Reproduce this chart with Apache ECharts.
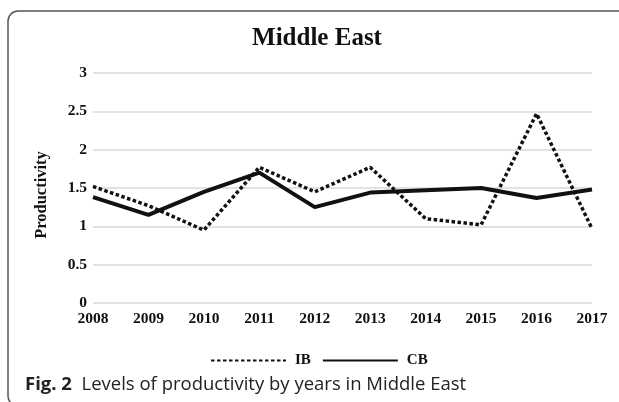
<!DOCTYPE html>
<html>
<head>
<meta charset="utf-8">
<script src="https://cdn.jsdelivr.net/npm/echarts@6/dist/echarts.min.js"></script>
<style>
html,body{margin:0;padding:0;background:#fff;}
#chart{width:619px;height:402px;}
</style>
</head>
<body>
<div id="chart"></div>
<script>
var years = ['2008','2009','2010','2011','2012','2013','2014','2015','2016','2017'];
var ibValues = [1.52, 1.27, 0.95, 1.77, 1.45, 1.77, 1.10, 1.02, 2.47, 0.97];
var cbValues = [1.38, 1.15, 1.45, 1.70, 1.25, 1.44, 1.47, 1.50, 1.37, 1.48];
var chartTitle = 'Middle East';
var yAxisName = 'Productivity';
var captionBold = 'Fig. 2';
var captionText = 'Levels of productivity by years in Middle East';

var serif = '"Liberation Serif", "Times New Roman", serif';
var frameStyle = {fill: 'none', stroke: '#555', lineWidth: 1.5};
var chart = echarts.init(document.getElementById('chart'), null, {renderer: 'canvas'});
chart.setOption({
  backgroundColor: '#fff',
  animation: false,
  title: {
    text: chartTitle,
    left: 312, top: 21, textAlign: 'center',
    textStyle: {fontFamily: serif, fontWeight: 'bold', fontSize: 25, color: '#111'}
  },
  grid: {left: 93, right: 27, top: 73, bottom: 99},
  legend: {
    top: 348, left: 205,
    itemWidth: 75, itemHeight: 10, itemGap: 11,
    itemStyle: {opacity: 0},
    textStyle: {fontFamily: serif, fontWeight: 'bold', fontSize: 15, color: '#111', padding: [0,0,0,4]},
    data: ['IB', 'CB']
  },
  xAxis: {
    type: 'category', data: years, boundaryGap: false,
    axisLine: {show: false}, axisTick: {show: false},
    axisLabel: {margin: 8, fontFamily: serif, fontWeight: 'bold', fontSize: 15.5, color: '#111'}
  },
  yAxis: {
    type: 'value', min: 0, max: 3, interval: 0.5,
    name: yAxisName, nameLocation: 'middle', nameGap: 43, nameRotate: 90,
    nameTextStyle: {fontFamily: serif, fontWeight: 'bold', fontSize: 16.5, color: '#111', padding: [0,14,0,0]},
    axisLine: {show: false}, axisTick: {show: false},
    axisLabel: {margin: 6, fontFamily: serif, fontWeight: 'bold', fontSize: 15.5, color: '#111'},
    splitLine: {lineStyle: {color: '#d9d9d9', width: 1.5}}
  },
  series: [
    {name: 'IB', type: 'line', data: ibValues, symbol: 'none',
     lineStyle: {color: '#111', width: 3.5, type: [3.5, 2.5], cap: 'butt'},
     itemStyle: {color: '#111'}},
    {name: 'CB', type: 'line', data: cbValues, symbol: 'none',
     lineStyle: {color: '#111', width: 4},
     itemStyle: {color: '#111'}}
  ],
  graphic: [
    {type: 'polyline', silent: true, shape: {points: [[8, 396], [8, 21]]}, style: frameStyle},
    {type: 'arc', silent: true, shape: {cx: 18, cy: 21, r: 10, startAngle: Math.PI, endAngle: Math.PI * 1.5}, style: frameStyle},
    {type: 'polyline', silent: true, shape: {points: [[18, 11], [640, 11]]}, style: frameStyle},
    {type: 'arc', silent: true, shape: {cx: 18, cy: 396, r: 10, startAngle: Math.PI * 0.5, endAngle: Math.PI}, style: frameStyle},
    {type: 'text', x: 25, y: 375,
     style: {
       text: '{b|' + captionBold + '}  ' + captionText,
       font: '18.5px "Open Sans", sans-serif',
       fill: '#222',
       rich: {b: {fontFamily: '"Open Sans", sans-serif', fontWeight: 'bold', fontSize: 18.5, fill: '#222'}}
     }}
  ]
});
</script>
</body>
</html>
